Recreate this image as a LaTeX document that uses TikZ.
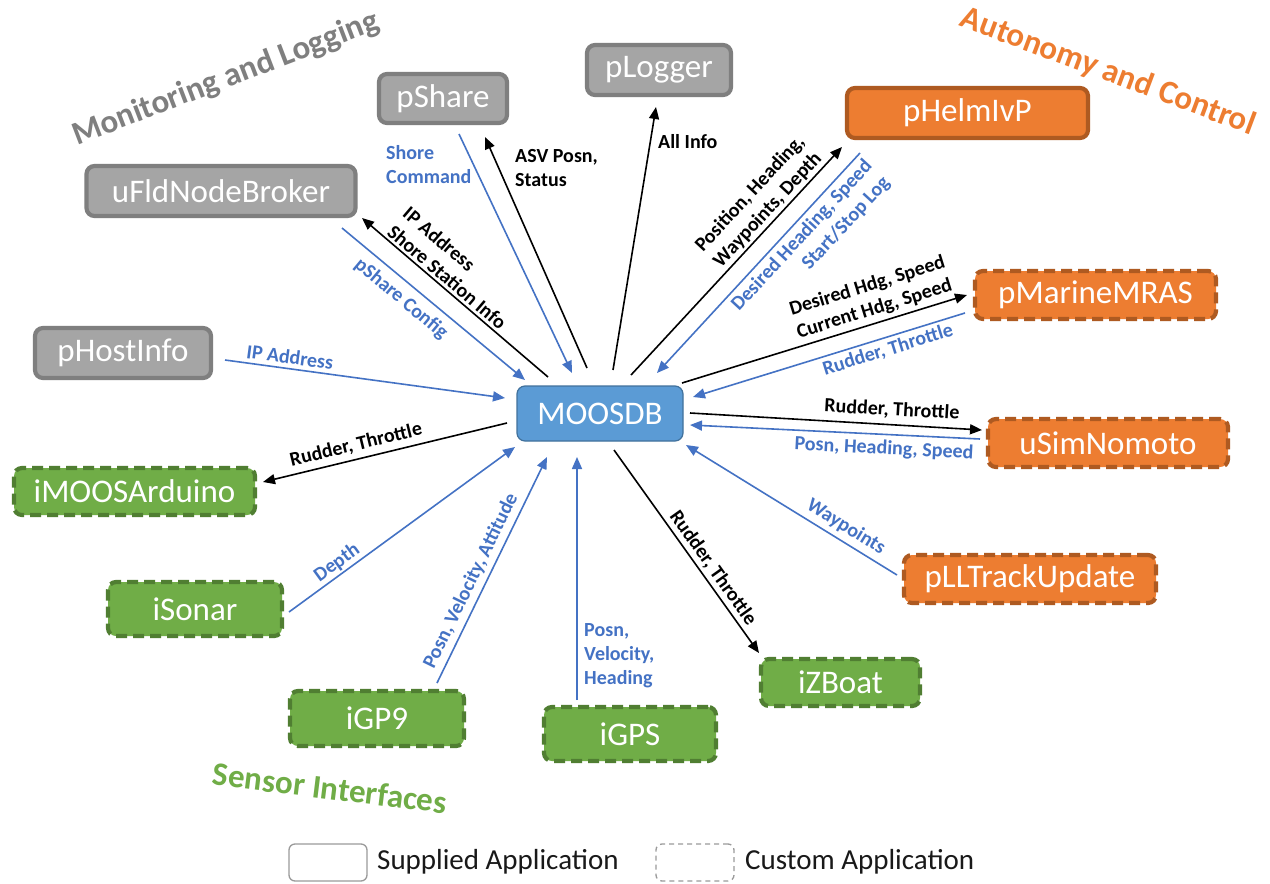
\documentclass[tikz,border=0pt]{standalone}
\usepackage{fontspec}
\setmainfont{Carlito}
\usetikzlibrary{arrows.meta}

\definecolor{grayfill}{HTML}{A5A5A5}
\definecolor{grayline}{HTML}{7F7F7F}
\definecolor{orangefill}{HTML}{ED7D31}
\definecolor{orangeline}{HTML}{AE5A21}
\definecolor{greenfill}{HTML}{70AD47}
\definecolor{greenline}{HTML}{507E32}
\definecolor{dbfill}{HTML}{5B9BD5}
\definecolor{dbline}{HTML}{41719C}
\definecolor{flowblue}{HTML}{4472C4}
\definecolor{titlegray}{HTML}{7F7F7F}
\definecolor{legendline}{HTML}{9A9A9A}

\begin{document}
\begin{tikzpicture}[x=1pt,y=-1pt,
  app/.style={rounded corners=8pt, line width=4.2pt, text=white, inner sep=0pt,
    font=\fontsize{33}{40}\selectfont},
  supplied/.style={app, draw=grayline, fill=grayfill},
  ctrlapp/.style={app, draw=orangeline, fill=orangefill, dash pattern=on 11pt off 6pt},
  sensorapp/.style={app, draw=greenline, fill=greenfill, dash pattern=on 11pt off 6pt},
  dbnode/.style={rounded corners=8pt, line width=1.2pt, draw=dbline, fill=dbfill,
    text=white, inner sep=0pt, font=\fontsize{33}{40}\selectfont},
  flow/.style={line width=1.6pt, -{Triangle[length=12pt,width=10pt]}},
  blueflow/.style={flow, draw=flowblue},
  blackflow/.style={flow, draw=black},
  lbl/.style={font=\bfseries\fontsize{20}{24}\selectfont, inner sep=0pt},
  bluelbl/.style={lbl, text=flowblue},
  blacklbl/.style={lbl, text=black},
  grouptitle/.style={font=\bfseries\fontsize{33}{40}\selectfont, inner sep=0pt},
  legendbox/.style={rounded corners=6pt, line width=1.3pt, draw=legendline, fill=white,
    minimum width=78pt, minimum height=37pt},
  legendtext/.style={font=\fontsize{29}{34}\selectfont, text=black!90, inner sep=0pt, anchor=west}
]
\useasboundingbox (0,0) rectangle (1270,884);
\fill[white] (0,0) rectangle (1270,884);

% ---- group titles
\node[grouptitle, text=titlegray, rotate=21] (t-mon) at (226,79) {Monitoring and Logging};
\node[grouptitle, text=orangefill, rotate=-20.5] (t-aut) at (1108,72) {Autonomy and Control};
\node[grouptitle, text=greenfill, rotate=-7] (t-sen) at (330,788) {Sensor Interfaces};

% ---- central database
\node[dbnode, minimum width=166pt, minimum height=55pt] (moos) at (600,413.5) {MOOSDB};

% ---- monitoring and logging
\node[supplied, minimum width=128pt, minimum height=49pt] (pshare) at (443,98.5) {pShare};
\node[supplied, minimum width=144pt, minimum height=50pt] (plogger) at (659,70) {pLogger};
\node[supplied, minimum width=269pt, minimum height=50pt] (broker) at (221,191) {uFldNodeBroker};
\node[supplied, minimum width=176pt, minimum height=50pt] (hostinfo) at (123,353) {pHostInfo};

% ---- autonomy and control
\node[supplied, draw=orangeline, fill=orangefill, minimum width=241pt, minimum height=50pt] (phelm) at (967.5,113) {pHelmIvP};
\node[ctrlapp, minimum width=241pt, minimum height=48pt] (mras) at (1095.5,295) {pMarineMRAS};
\node[ctrlapp, minimum width=240pt, minimum height=48pt] (usim) at (1108,443) {uSimNomoto};
\node[ctrlapp, minimum width=252pt, minimum height=48pt] (pll) at (1030,579) {pLLTrackUpdate};

% ---- sensor interfaces
\node[sensorapp, minimum width=241pt, minimum height=47pt] (imoos) at (134.5,491.5) {iMOOSArduino};
\node[sensorapp, minimum width=174pt, minimum height=54pt] (isonar) at (195,609) {iSonar};
\node[sensorapp, minimum width=174pt, minimum height=55pt] (igp9) at (377,718.5) {iGP9};
\node[sensorapp, minimum width=172pt, minimum height=54pt] (igps) at (630,734) {iGPS};
\node[sensorapp, minimum width=159pt, minimum height=47pt] (izboat) at (840.5,682.5) {iZBoat};

% ---- connector end points
\coordinate (hostinfo-out) at (225,360);   \coordinate (moos-hi)  at (505,398);
\coordinate (moos-br)      at (548,377);   \coordinate (broker-in) at (362,218);
\coordinate (broker-out)   at (342,228);   \coordinate (moos-bi)  at (525,380);
\coordinate (pshare-out)   at (459,134);   \coordinate (moos-si)  at (572,373);
\coordinate (moos-so)      at (587,368);   \coordinate (pshare-in) at (485,137);
\coordinate (moos-lo)      at (613,370);   \coordinate (plogger-in) at (656,107);
\coordinate (moos-ho)      at (631,375);   \coordinate (phelm-in) at (842,147);
\coordinate (phelm-out)    at (860,153);   \coordinate (moos-hin) at (657,373);
\coordinate (moos-mo)      at (682,383);   \coordinate (mras-in)  at (967,295);
\coordinate (mras-out)     at (965,313);   \coordinate (moos-mi)  at (693,397);
\coordinate (moos-uo)      at (690,413);   \coordinate (usim-in)  at (982,430);
\coordinate (usim-out)     at (980,439);   \coordinate (moos-ui)  at (690,425);
\coordinate (pll-out)      at (897,575);   \coordinate (moos-pi)  at (686,445);
\coordinate (moos-zo)      at (614,450);   \coordinate (izboat-in) at (759,653);
\coordinate (igps-out)     at (577,700);   \coordinate (moos-gi)  at (577,457);
\coordinate (igp9-out)     at (437,683);   \coordinate (moos-9i)  at (547,457);
\coordinate (isonar-out)   at (289,612);   \coordinate (moos-di)  at (515,447);
\coordinate (moos-ao)      at (507,423);   \coordinate (imoos-in) at (263,482);

% ---- connectors
\draw[blueflow]  (hostinfo-out) -- (moos-hi);
\draw[blackflow] (moos-br) -- (broker-in);
\draw[blueflow]  (broker-out) -- (moos-bi);
\draw[blueflow]  (pshare-out) -- (moos-si);
\draw[blackflow] (moos-so) -- (pshare-in);
\draw[blackflow] (moos-lo) -- (plogger-in);
\draw[blackflow] (moos-ho) -- (phelm-in);
\draw[blueflow]  (phelm-out) -- (moos-hin);
\draw[blackflow] (moos-mo) -- (mras-in);
\draw[blueflow]  (mras-out) -- (moos-mi);
\draw[blackflow] (moos-uo) -- (usim-in);
\draw[blueflow]  (usim-out) -- (moos-ui);
\draw[blueflow]  (pll-out) -- (moos-pi);
\draw[blackflow] (moos-zo) -- (izboat-in);
\draw[blueflow]  (igps-out) -- (moos-gi);
\draw[blueflow]  (igp9-out) -- (moos-9i);
\draw[blueflow]  (isonar-out) -- (moos-di);
\draw[blackflow] (moos-ao) -- (imoos-in);

% ---- connector labels
\node[bluelbl, rotate=-7.7] (l-hostip) at (290,357) {IP Address};
\node[blacklbl, rotate=-40.5, align=left] (l-brokerinfo) at (455,268) {IP Address\\Shore Station Info};
\node[bluelbl, rotate=-40] (l-shareconfig) at (401,299) {pShare Config};
\node[bluelbl, align=left, anchor=west] (l-shorecmd) at (386,165) {Shore\\Command};
\node[blacklbl, align=left, anchor=west] (l-asv) at (515,168) {ASV Posn,\\Status};
\node[blacklbl, anchor=west] (l-allinfo) at (658,142) {All Info};
\node[blacklbl, rotate=47.2, align=center] (l-helmin) at (759,202) {Position, Heading,\\Waypoints, Depth};
\node[bluelbl, rotate=47.3, align=right] (l-helmout) at (811,244) {Desired Heading, Speed\\Start/Stop Log};
\node[blacklbl, rotate=17.2, align=center] (l-mrasin) at (871,298) {Desired Hdg, Speed\\Current Hdg, Speed};
\node[bluelbl, rotate=17.2] (l-mrasout) at (888,350) {Rudder, Throttle};
\node[blacklbl, rotate=-3.3] (l-usimin) at (892,410) {Rudder, Throttle};
\node[bluelbl, rotate=-3] (l-usimout) at (884,449) {Posn, Heading, Speed};
\node[bluelbl, rotate=-31.6] (l-pll) at (846,527) {Waypoints};
\node[blacklbl, rotate=-54.5] (l-izboat) at (713,568) {Rudder, Throttle};
\node[bluelbl, align=left, anchor=west] (l-igps) at (584,656) {Posn,\\Velocity,\\Heading};
\node[bluelbl, rotate=64] (l-igp9) at (471,581) {Posn, Velocity, Attitude};
\node[bluelbl, rotate=36] (l-isonar) at (337,563) {Depth};
\node[blacklbl, rotate=13.6] (l-imoos) at (356,445) {Rudder, Throttle};

% ---- legend
\node[legendbox] (leg-sup) at (328,862.5) {};
\node[legendtext] (leg-sup-t) at (377,862) {Supplied Application};
\node[legendbox, dash pattern=on 5pt off 4pt] (leg-cus) at (695,862.5) {};
\node[legendtext] (leg-cus-t) at (745,862) {Custom Application};
\end{tikzpicture}
\end{document}
